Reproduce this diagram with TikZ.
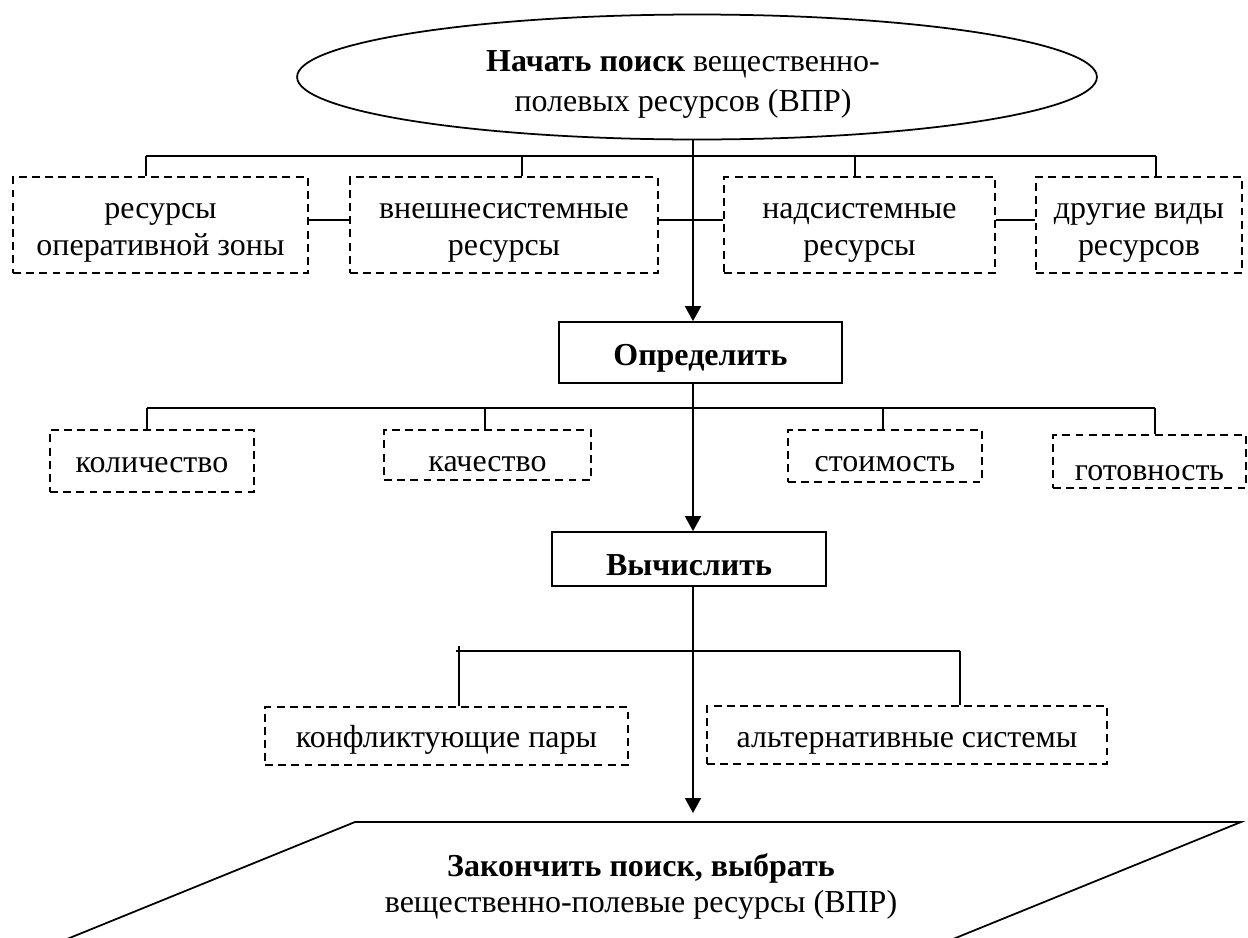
\documentclass[tikz,border=0pt]{standalone}
\usepackage{fontspec}
\setmainfont{Liberation Serif}
\usetikzlibrary{shapes.geometric,arrows.meta}
\newcommand{\tops}[1]{\rule{0pt}{#1}}
\newcommand{\bots}[1]{\rule[-#1]{0pt}{#1}}
\tikzset{
  res/.style={draw, dash pattern=on 4.5pt off 3pt, align=center, inner sep=0pt},
  act/.style={draw, align=center, inner sep=0pt},
  lift/.style={text depth=0pt, text height=#1},
}
\begin{document}
\begin{tikzpicture}[x=0.02cm, y=-0.02cm, line width=1pt,
    >={Triangle[length=0.3cm,width=0.32cm]}, font=\fontsize{18.2}{21}\selectfont]
    \useasboundingbox (0,0) rectangle (1248,937);

    \node[ellipse, draw, minimum width=16cm, minimum height=2.5cm, align=center, inner sep=0pt,
      font=\fontsize{18.2}{22.8}\selectfont] (start) at (697,77)
      {\tops{22pt}\textbf{Начать поиск} вещественно-\hspace*{0.56cm}\\полевых ресурсов (ВПР)\hspace*{0.56cm}\bots{5pt}};

    \node[res, minimum width=5.9cm, minimum height=1.92cm] (r1) at (160.5,225) {\tops{18pt}ресурсы\\оперативной зоны\bots{4.5pt}};
    \node[res, minimum width=6.16cm, minimum height=1.92cm] (r2) at (504,225) {\tops{18pt}внешнесистемные\\ресурсы\bots{4.5pt}};
    \node[res, minimum width=5.42cm, minimum height=1.92cm] (r3) at (859.5,225) {\tops{18pt}надсистемные\\ресурсы\bots{4.5pt}};
    \node[res, minimum width=4.12cm, minimum height=1.92cm] (r4) at (1139,225) {\tops{18pt}другие виды\\ресурсов\bots{4.5pt}};

    \node[act, lift=14.6pt, minimum width=5.66cm, minimum height=1.22cm] (opr) at (700.5,352.5) {\textbf{Определить}};

    \node[res, lift=12.9pt, minimum width=4.08cm, minimum height=1.24cm] (q1) at (152,461) {количество};
    \node[res, lift=18.6pt, minimum width=4.14cm, minimum height=1cm] (q2) at (487.5,455) {качество};
    \node[res, lift=17.5pt, minimum width=3.88cm, minimum height=1.04cm] (q3) at (885,456) {стоимость};
    \node[res, lift=21.5pt, minimum width=3.86cm, minimum height=1.06cm] (q4) at (1149.5,461.5) {готовность};

    \node[act, lift=18.6pt, minimum width=5.48cm, minimum height=1.08cm] (calc) at (689,559) {\textbf{Вычислить}};

    \node[res, lift=13pt, minimum width=7.26cm, minimum height=1.16cm] (p1) at (446.5,736) {конфликтующие пары};
    \node[res, lift=14.1pt, minimum width=8cm, minimum height=1.16cm] (p2) at (907,735) {альтернативные системы};

    \node[align=center, inner sep=0pt] (fin) at (641,887) {\tops{12.9pt}\textbf{Закончить поиск, выбрать}\\вещественно-полевые ресурсы (ВПР)\bots{4.5pt}};

    % main flow
    \coordinate (m0) at (693,140);
    \coordinate (m1) at (693,813);
    \draw[->] (m0) -- (m0 |- opr.north);
    \draw[->] (m0 |- opr.south) -- (m0 |- calc.north);
    \draw[->] (m0 |- calc.south) -- (m1);

    % resource kinds
    \foreach \x/\n in {146/1, 522/2, 855/3, 1156/4} {
      \coordinate (a\n) at (\x,156);
      \draw (a\n) -- (a\n |- r\n.north);
    }
    \draw (a1) -- (a4);
    \draw ([yshift=0.1cm]r1.east) -- ([yshift=0.1cm]r2.west);
    \draw ([yshift=0.1cm]r2.east) -- ([yshift=0.1cm]r3.west);
    \draw ([yshift=0.1cm]r3.east) -- ([yshift=0.1cm]r4.west);

    % what to determine
    \foreach \x/\n in {147/1, 485/2, 883/3, 1155/4} {
      \coordinate (b\n) at (\x,408);
      \draw (b\n) -- (b\n |- q\n.north);
    }
    \draw (b1) -- (b4);

    % what to compute
    \coordinate (c1) at (459,651);
    \coordinate (c2) at (960,651);
    \draw (456,651) -- (c2);
    \draw ([yshift=0.1cm]c1) -- (c1 |- p1.north);
    \draw (c2) -- (c2 |- p2.north);

    % end
    \draw (40,950) -- (355,822) -- (1241,822) -- (926,950);
\end{tikzpicture}
\end{document}
